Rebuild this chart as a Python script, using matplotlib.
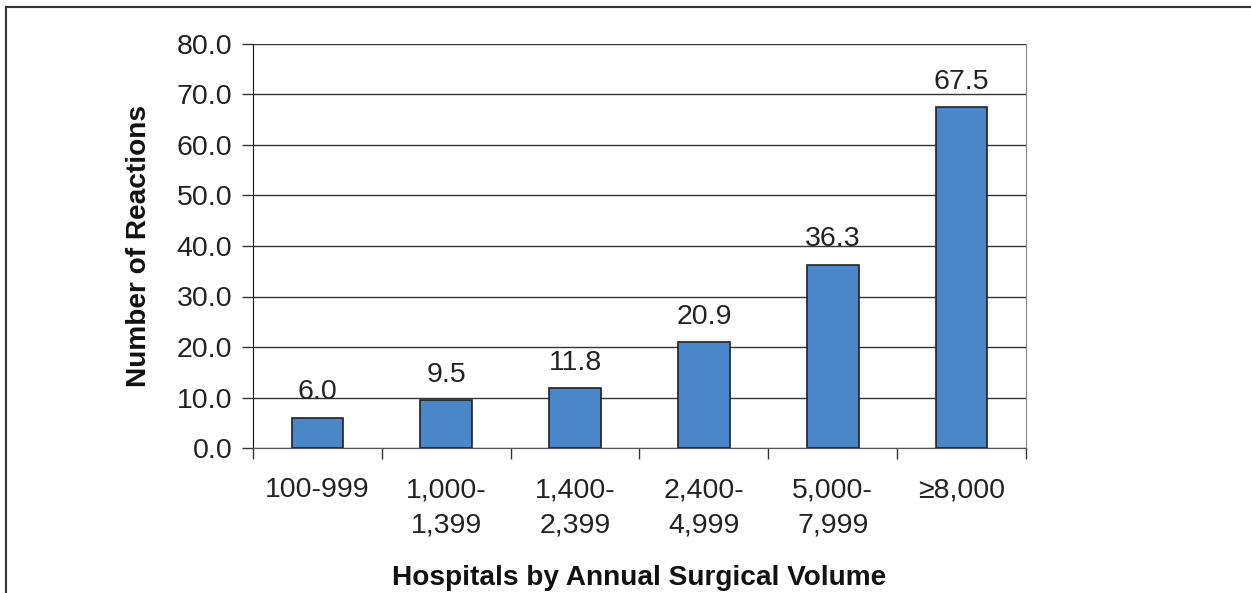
import matplotlib
matplotlib.use("Agg")
import matplotlib.pyplot as plt
import numpy as np

plt.rcParams['font.family'] = ['Liberation Sans', 'DejaVu Sans']

categories = ["100-999", "1,000-\n1,399", "1,400-\n2,399", "2,400-\n4,999", "5,000-\n7,999", "\u22658,000"]
reactions = [6.0, 9.5, 11.8, 20.9, 36.3, 67.5]
yticks = [0, 10, 20, 30, 40, 50, 60, 70, 80]

fig = plt.figure(figsize=(12.51, 5.93), dpi=100)
W, H = 1251, 593
ax = fig.add_axes([253 / W, 1 - 448 / H, (1026 - 253) / W, (448 - 44) / H])

x = np.arange(len(categories))
bars = ax.bar(x, reactions, width=0.40, color='#4a86c8', edgecolor='#222222', linewidth=1.2, zorder=3)
for xi, v in zip(x, reactions):
    ax.annotate(f"{v:.1f}", (xi, v), xytext=(0, 9), textcoords='offset points',
                ha='center', va='bottom', fontsize=20.5, color='#222222', zorder=4)

ax.set_xlim(-0.5, len(categories) - 0.5)
ax.set_ylim(0, 80)
ax.set_yticks(yticks)
ax.set_yticklabels([f"{t:.1f}" for t in yticks], fontsize=20.5, color='#222222')
ax.yaxis.grid(True, color='#333333', linewidth=1.0, zorder=0)
ax.tick_params(axis='y', length=8, width=1, color='#333333', pad=7)

ax.set_xticks(x)
ax.set_xticklabels(categories, fontsize=20.5, color='#222222', linespacing=1.45, va='top')
ax.set_xticks(np.arange(len(categories) + 1) - 0.5, minor=True)
ax.tick_params(axis='x', which='major', length=0, pad=21)
ax.tick_params(axis='x', which='minor', length=8, width=1, color='#333333')

ax.spines['top'].set_visible(False)
ax.spines['right'].set_color('#888888')
ax.spines['left'].set_color('#111111')
ax.spines['bottom'].set_color('#555555')

ax.set_ylabel("Number of Reactions", fontsize=20.2, fontweight='bold', color='#111111', labelpad=18)
ax.set_xlabel("Hospitals by Annual Surgical Volume", fontsize=20.2, fontweight='bold', color='#111111', labelpad=19)

# outer frame (top and left visible)
fig.add_artist(plt.Line2D([6 / W, 1], [1 - 7 / H, 1 - 7 / H], transform=fig.transFigure, color='#333333', linewidth=1.5))
fig.add_artist(plt.Line2D([6 / W, 6 / W], [0, 1 - 7 / H], transform=fig.transFigure, color='#333333', linewidth=1.5))

fig.savefig("out.png", dpi=100)
